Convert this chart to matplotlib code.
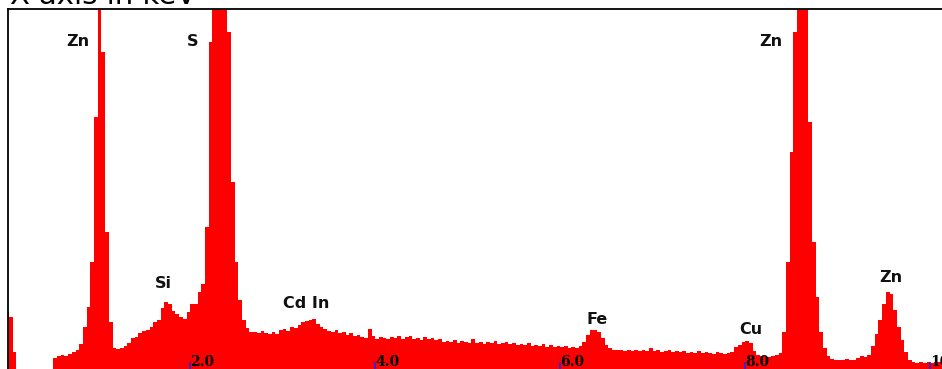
import matplotlib
matplotlib.use('Agg')
import matplotlib.pyplot as plt
import numpy as np

# EDS spectrum, 0.04 keV channels starting at 0 keV
CH_WIDTH = 0.04
counts = [
    60, 55, 20, 0, 0, 0, 0, 0, 0, 0, 0, 0,            # 0.00 - 0.48
    3, 14, 16, 17, 16, 18, 20, 22,                    # 0.48 - 0.80
    28, 45, 65, 110, 255, 480, 320, 140, 50, 24,      # Zn L
    23, 24, 26, 29, 34, 35, 39, 41, 42, 45,
    50, 52, 64, 70, 68, 61, 58, 55, 53, 60,           # Si
    68, 68, 80, 88, 145, 330, 520, 640, 610, 470,     # S
    340, 190, 110, 72, 52, 44, 40, 40, 39, 41,
    39, 38, 40, 38, 42, 43, 41, 45, 44, 47,
    50, 51, 52, 53, 48, 45, 43, 41, 40, 42,           # Cd / In
    39, 40, 37, 39, 36, 37, 35, 34, 43, 36,
    33, 35, 34, 33, 35, 34, 36, 33, 35, 36,
    33, 34, 32, 35, 33, 34, 32, 33, 30, 31,
    30, 32, 29, 31, 30, 29, 33, 29, 30, 28,
    30, 29, 31, 28, 29, 30, 28, 29, 27, 28,
    27, 29, 26, 27, 26, 28, 25, 27, 25, 26,
    25, 26, 24, 25, 24, 26, 30, 37, 42, 42,           # Fe
    40, 34, 27, 24, 22, 22, 22, 21, 22, 21,
    22, 21, 22, 21, 24, 21, 22, 20, 21, 22,
    20, 21, 20, 21, 19, 20, 19, 21, 19, 20,
    19, 18, 20, 19, 18, 19, 20, 25, 27, 30,           # Cu
    31, 29, 21, 17, 16, 16, 15, 16, 17, 19,
    40, 110, 220, 340, 560, 600, 520, 250, 130, 75,   # Zn K-alpha
    40, 24, 16, 13, 12, 12, 12, 13, 12, 12,
    14, 16, 15, 17, 26, 38, 52, 68, 80, 78,           # Zn K-beta
    62, 45, 32, 20, 12, 10, 9, 10, 9, 10,
    9, 10, 10, 9, 10,
]
edges = CH_WIDTH * np.arange(len(counts) + 1)

# element markers (energy keV, label height in counts)
peak_names = ['Zn', 'S', 'Si', 'Cd In', 'Fe', 'Cu', 'Zn', 'Zn']
peak_x = [0.79, 2.03, 1.71, 3.25, 6.40, 8.06, 8.28, 9.57]
peak_y = [331, 331, 88, 68, 53, 43, 331, 95]

xticks = [2, 4, 6, 8, 10]
xticklabels = ['2.0', '4.0', '6.0', '8.0', '10.0']

W, H = 942, 369
fig = plt.figure(figsize=(W / 100, H / 100), dpi=100, facecolor='white')
# axes runs past the right and bottom edges of the canvas
ax = fig.add_axes([8 / W, -3 / H, 950 / W, 363 / H])
ax.set_facecolor('white')

ax.stairs(counts, edges, fill=True, color='#ff0000', linewidth=0)

for name, x, y in zip(peak_names, peak_x, peak_y):
    ax.text(x, y, name, ha='center', va='center', fontsize=11.5,
            fontweight='bold', color='#111111')

ax.set_xlim(0.03, 10.3)
ax.set_ylim(0, 363)
ax.set_yticks([])
ax.set_xticks(xticks)
ax.set_xticklabels(xticklabels, fontsize=10, fontweight='bold',
                   family='DejaVu Serif', ha='left')
ax.tick_params(axis='x', direction='in', length=7, width=1.3,
               color='#2a2ad0', pad=-12.5, labelcolor='black')
for sp in ax.spines.values():
    sp.set_color('black')
    sp.set_linewidth(1.3)

fig.text(10 / W, 1 - 4 / H, 'X-axis in keV', fontsize=21,
         ha='left', va='baseline', color='black')

fig.savefig('out.png', dpi=100, facecolor='white')
